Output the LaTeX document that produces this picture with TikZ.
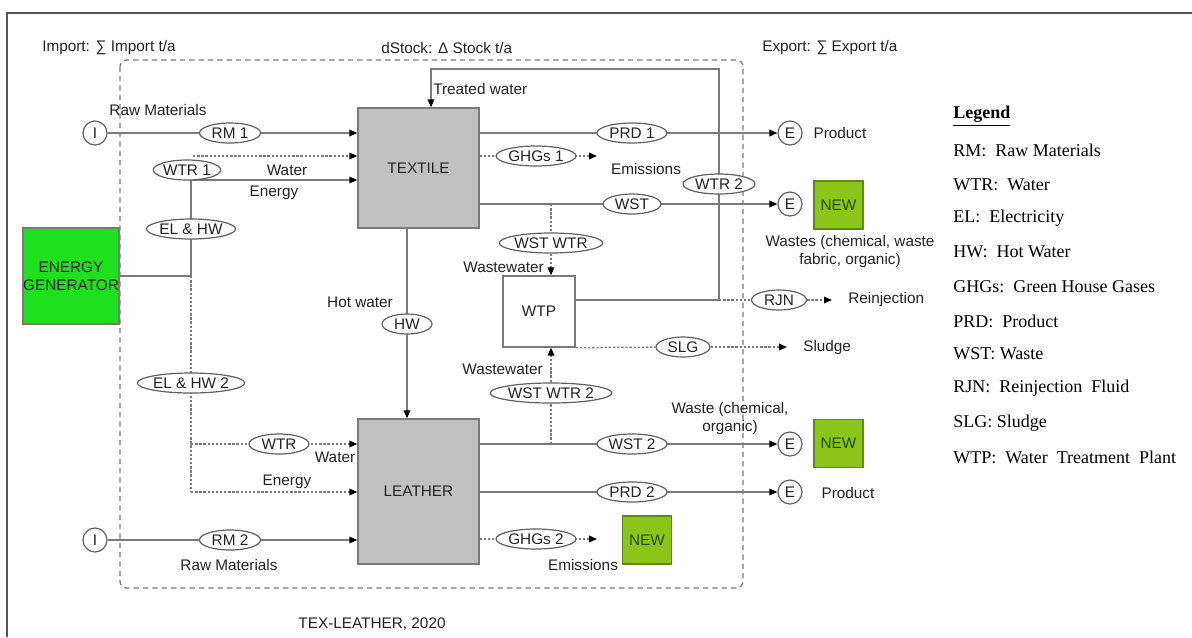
\documentclass[tikz,border=0pt]{standalone}
\usepackage{fontspec}
\setmainfont{Liberation Sans}
\newfontfamily\legendfont{Liberation Serif}
\usetikzlibrary{arrows.meta,shapes.geometric,calc}
\pgfdeclarelayer{bg}
\pgfsetlayers{bg,main}

\definecolor{linegray}{HTML}{7A7A7A}
\definecolor{tagedge}{HTML}{606060}
\definecolor{boxgray}{HTML}{C0C0C0}
\definecolor{txt}{HTML}{222222}
\definecolor{framecol}{HTML}{555555}
\definecolor{gengreen}{HTML}{1EE01E}
\definecolor{newgreen}{HTML}{8CC41A}
\definecolor{newborder}{HTML}{5E8A12}
\definecolor{newtext}{HTML}{1E4D0A}

\tikzset{
  every node/.style={font=\fontsize{11.5}{13.5}\selectfont, text=txt},
  sz/.style 2 args={minimum width=#1*0.75pt, minimum height=#2*0.75pt},
  proc/.style={rectangle, draw=linegray, line width=1pt, fill=boxgray, inner sep=0pt},
  plant/.style={rectangle, draw=linegray, line width=1pt, fill=white, inner sep=0pt},
  genbox/.style={rectangle, draw=linegray, line width=0.8pt, fill=gengreen, inner sep=0pt, align=center},
  newbox/.style={rectangle, draw=newborder, line width=0.8pt, fill=newgreen, inner sep=0pt,
    minimum width=36.75pt, minimum height=36pt, text=newtext},
  flowtag/.style={ellipse, draw=tagedge, line width=0.9pt, fill=white, inner sep=0pt,
    minimum height=15pt, minimum width=#1*0.75pt},
  term/.style={circle, draw=tagedge, line width=0.9pt, fill=white, inner sep=0pt, minimum size=18pt},
  flow/.style={draw=linegray, line width=1.1pt},
  dotflow/.style={draw=linegray, line width=1.1pt, dash pattern=on 1.8pt off 1.3pt},
  arr/.style={-{Triangle[length=6pt,width=5pt,color=black]}},
  lbl/.style={inner sep=0pt},
  leg/.style={inner sep=0pt, anchor=west, font=\legendfont\fontsize{13.5}{15}\selectfont, text=black},
}

\begin{document}
\begin{tikzpicture}[x=0.75pt,y=-0.75pt]
\useasboundingbox (0,0) rectangle (1192,637);

% outer frame (top and left edges)
\draw[framecol, line width=1.2pt] (7,637) -- (7,13) -- (1192,13);

% system boundary
\draw[linegray, line width=1pt, dash pattern=on 4pt off 3pt, rounded corners=5pt]
  (120,60) rectangle (743,588);

% headings
\node[lbl, anchor=west] (himp) at (42,48) {Import: ∑ Import t/a};
\node[lbl, anchor=west] (hstk) at (381,48) {dStock: Δ Stock t/a};
\node[lbl, anchor=west] (hexp) at (762,48) {Export: ∑ Export t/a};

% processes
\node[proc, sz={121}{120}] (TEX) at (418.5,168) {TEXTILE};
\node[proc, sz={121}{145}] (LEA) at (418.5,491.5) {LEATHER};
\node[plant, sz={72}{71}] (WTP) at (539,311.5) {WTP};
\node[genbox, sz={96}{96}] (GEN) at (71,276) {ENERGY\\GENERATOR};

\node[newbox] (NEW1) at (838.5,205) {NEW};
\node[newbox] (NEW2) at (838.5,443.5) {NEW};
\node[newbox] (NEW3) at (647,540) {NEW};

% import / export terminals
\node[term] (I1) at (95,133) {I};
\node[term] (I2) at (95,540) {I};
\node[term] (E1) at (790,133) {E};
\node[term] (E2) at (790,204) {E};
\node[term] (E3) at (790,444) {E};
\node[term] (E4) at (790,492) {E};

% flow tags
\node[flowtag=61] (RM1) at (230,133) {RM 1};
\node[flowtag=63] (WTR1) at (187,170) {WTR 1};
\node[flowtag=87] (ELHW) at (191,229) {EL \& HW};
\node[flowtag=99] (ELHW2) at (191,383) {EL \& HW 2};
\node[flowtag=60] (WTRL) at (279,444) {WTR};
\node[flowtag=61] (RM2) at (230,540) {RM 2};
\node[flowtag=70] (PRD1) at (632,133) {PRD 1};
\node[flowtag=80] (GHG1) at (536,156) {GHGs 1};
\node[flowtag=58] (WST1) at (632,204) {WST};
\node[flowtag=72] (WTR2) at (719,184) {WTR 2};
\node[flowtag=99] (WSTWTR) at (551,243) {WST WTR};
\node[flowtag=50] (HW) at (407,324) {HW};
\node[flowtag=55] (RJN) at (779,300) {RJN};
\node[flowtag=54] (SLG) at (683,347) {SLG};
\node[flowtag=111] (WSTWTR2) at (551,393) {WST WTR 2};
\node[flowtag=70] (WST2) at (632,444) {WST 2};
\node[flowtag=70] (PRD2) at (632,492) {PRD 2};
\node[flowtag=80] (GHG2) at (536,539) {GHGs 2};

% junction and end points
\coordinate (wsrc) at (193,156);
\coordinate (j0) at (191,180);
\coordinate (j1) at (191,276);
\coordinate (j2) at (191,444);
\coordinate (j3) at (191,492);
\coordinate (em1) at (597,156);
\coordinate (em2) at (597,539);
\coordinate (ww1) at (551,204);
\coordinate (ww2) at (551,444);
\coordinate (tw1) at (719,300);
\coordinate (tw2) at (431,69);
\coordinate (rjend) at (832,300);
\coordinate (slend) at (787,347);

\begin{pgfonlayer}{bg}
  % textile inputs
  \draw[flow, arr] (I1) -- (TEX.west |- I1);
  \draw[dotflow, arr] (wsrc) -- (TEX.west |- wsrc);
  \draw[flow, arr] (GEN.east |- j1) -- (j1) -- (j0) -- (TEX.west |- j0);
  % leather inputs
  \draw[dotflow] (j1) -- (j3);
  \draw[dotflow, arr] (j2) -- (LEA.west |- j2);
  \draw[dotflow, arr] (j3) -- (LEA.west |- j3);
  \draw[flow, arr] (I2) -- (LEA.west |- I2);
  % textile outputs
  \draw[flow, arr] (TEX.east |- E1) -- (E1);
  \draw[dotflow, arr] (TEX.east |- em1) -- (em1);
  \draw[flow, arr] (TEX.east |- E2) -- (E2);
  \draw[dotflow, arr] (ww1) -- (ww1 |- WTP.north);
  \draw[flow, arr] (TEX.south -| HW) -- (LEA.north -| HW);
  % water treatment loop
  \draw[flow, arr] (tw1 -| WTP.east) -- (tw1) |- (tw2) -- (tw2 |- TEX.north);
  \draw[dotflow] (tw1) -- (RJN);
  \draw[dotflow, arr] (RJN) -- (rjend);
  \draw[dotflow] (WTP.south east) -- (SLG);
  \draw[dotflow, arr] (SLG) -- (slend);
  % leather outputs
  \draw[dotflow, arr] (ww2) -- (ww2 |- WTP.south);
  \draw[flow, arr] (LEA.east |- E3) -- (E3);
  \draw[flow, arr] (LEA.east |- E4) -- (E4);
  \draw[dotflow, arr] (LEA.east |- em2) -- (em2);
\end{pgfonlayer}

% flow labels
\node[lbl] (rmtop) at (158,110) {Raw Materials};
\node[lbl] (watertop) at (287,170) {Water};
\node[lbl] (energytop) at (274,193) {Energy};
\node[lbl, anchor=west] (treated) at (433,89) {Treated water};
\node[lbl] (emis1) at (646,169) {Emissions};
\node[lbl, anchor=east] (wwtop) at (544,267) {Wastewater};
\node[lbl] (hotw) at (360,302) {Hot water};
\node[lbl, anchor=east] (wwbot) at (543,369) {Wastewater};
\node[lbl] (waterbot) at (335,457) {Water};
\node[lbl] (energybot) at (287,482) {Energy};
\node[lbl] (rmbot) at (229,565) {Raw Materials};
\node[lbl] (prod1) at (840,133) {Product};
\node[lbl, align=center] (wastes1) at (850,252) {Wastes (chemical, waste\\fabric, organic)};
\node[lbl, anchor=west] (reinj) at (848,300) {Reinjection};
\node[lbl, anchor=west] (sludge) at (803,348) {Sludge};
\node[lbl, align=center] (wastes2) at (730,419) {Waste (chemical,\\organic)};
\node[lbl] (prod2) at (848,493) {Product};
\node[lbl] (emis2) at (583,565) {Emissions};
\node[lbl] (caption) at (372,624) {TEX-LEATHER, 2020};

% legend
\node[leg] (lg0) at (953,116) {\underline{\textbf{Legend}}};
\node[leg] (lg1) at (953,150) {RM:\ \ Raw Materials};
\node[leg] (lg2) at (953,185) {WTR:\ \ Water};
\node[leg] (lg3) at (953,218) {EL:\ \ Electricity};
\node[leg] (lg4) at (953,252) {HW:\ \ Hot Water};
\node[leg] (lg5) at (953,287) {GHGs:\ \ Green House Gases};
\node[leg] (lg6) at (953,321) {PRD:\ \ Product};
\node[leg] (lg7) at (953,354) {WST: Waste};
\node[leg] (lg8) at (953,388) {RJN:\ \ Reinjection\ \ Fluid};
\node[leg] (lg9) at (953,423) {SLG: Sludge};
\node[leg] (lg10) at (953,457) {WTP:\ \ Water\ \ Treatment\ \ Plant};
\end{tikzpicture}
\end{document}
